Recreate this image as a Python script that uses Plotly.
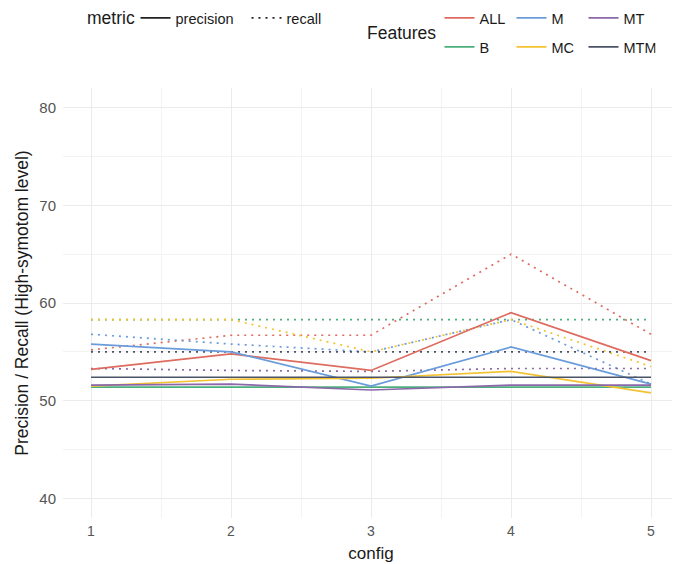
import plotly.graph_objects as go

configs = [1, 2, 3, 4, 5]
features = ["ALL", "B", "M", "MC", "MT", "MTM"]

all_precision = [53.2, 54.8, 53.1, 59.0, 54.1]
all_recall = [55.2, 56.7, 56.7, 65.0, 56.8]
b_precision = [51.4, 51.4, 51.4, 51.4, 51.4]
b_recall = [58.3, 58.3, 58.3, 58.3, 58.3]
m_precision = [55.8, 55.0, 51.5, 55.5, 51.7]
m_recall = [56.8, 55.8, 55.0, 58.3, 51.7]
mc_precision = [51.5, 52.2, 52.3, 53.0, 50.8]
mc_recall = [58.3, 58.3, 55.0, 58.3, 53.5]
mt_precision = [51.6, 51.7, 51.1, 51.6, 51.6]
mt_recall = [53.3, 53.1, 53.0, 53.3, 53.3]
mtm_precision = [52.4, 52.4, 52.4, 52.4, 52.4]
mtm_recall = [55.0, 55.0, 55.0, 55.0, 55.0]

colors = {
    "ALL": "#DE6B5F",
    "B": "#4DAF7C",
    "M": "#6A9BDB",
    "MC": "#F3C233",
    "MT": "#8B68AA",
    "MTM": "#4B5366",
}

series = {
    "ALL": (all_precision, all_recall),
    "B": (b_precision, b_recall),
    "M": (m_precision, m_recall),
    "MC": (mc_precision, mc_recall),
    "MT": (mt_precision, mt_recall),
    "MTM": (mtm_precision, mtm_recall),
}

fig = go.Figure()

LW = 1.7
DOT = "2px,5px"
for f in features:
    prec, rec = series[f]
    fig.add_trace(go.Scatter(x=configs, y=rec, mode="lines", showlegend=False,
                             line=dict(color=colors[f], width=LW, dash=DOT),
                             hoverinfo="skip"))
for f in features:
    prec, rec = series[f]
    fig.add_trace(go.Scatter(x=configs, y=prec, mode="lines", showlegend=False,
                             line=dict(color=colors[f], width=LW),
                             hoverinfo="skip"))

# metric legend entries
fig.add_trace(go.Scatter(x=[None], y=[None], mode="lines", name="precision",
                         line=dict(color="#222222", width=LW), legend="legend"))
fig.add_trace(go.Scatter(x=[None], y=[None], mode="lines", name="recall",
                         line=dict(color="#222222", width=LW, dash=DOT), legend="legend"))

# Features legend entries (two rows)
row1 = ["ALL", "M", "MT"]
row2 = ["B", "MC", "MTM"]
for f in row1:
    fig.add_trace(go.Scatter(x=[None], y=[None], mode="lines", name=f,
                             line=dict(color=colors[f], width=LW), legend="legend2"))
for f in row2:
    fig.add_trace(go.Scatter(x=[None], y=[None], mode="lines", name=f,
                             line=dict(color=colors[f], width=LW), legend="legend3"))

FONT = "Liberation Sans, Arial, sans-serif"
OFF = 8  # page body margin in the browser
W, H = 680 - OFF, 564 - OFF
L, R, T, B = 63 - OFF, 1, 88 - OFF, 46
pw, ph = W - L - R, H - T - B

def px_x(p):
    # p is an x position in screenshot pixels
    return (p - OFF - L) / pw

def px_y(p):
    return (H - B - (p - OFF)) / ph

LEG_FONT = dict(family=FONT, size=14.5, color="#1a1a1a")
legend_common = dict(orientation="h", bgcolor="rgba(0,0,0,0)",
                     yanchor="middle", xanchor="left", itemclick=False,
                     entrywidthmode="pixels", font=LEG_FONT)

fig.update_layout(
    width=W, height=H,
    margin=dict(l=L, r=R, t=T, b=B, autoexpand=False),
    paper_bgcolor="white", plot_bgcolor="white",
    font=dict(family=FONT, color="#1a1a1a"),
    legend=dict(**legend_common, x=px_x(135.5), y=px_y(18), entrywidth=66),
    legend2=dict(**legend_common, x=px_x(439.5), y=px_y(18), entrywidth=27),
    legend3=dict(**legend_common, x=px_x(439.5), y=px_y(47), entrywidth=27),
    xaxis=dict(
        range=[0.8, 5.2], tickvals=configs, ticktext=[str(c) for c in configs],
        showgrid=True, gridcolor="#EBEBEB", gridwidth=1.3,
        minor=dict(tickvals=[1.5, 2.5, 3.5, 4.5], showgrid=True,
                   gridcolor="#F3F3F3", gridwidth=0.7),
        zeroline=False, showline=False, ticks="", ticklabelstandoff=3,
        tickfont=dict(family=FONT, size=14, color="#555555"),
        title=dict(text="config", font=dict(family=FONT, size=17, color="#1a1a1a"), standoff=9),
    ),
    yaxis=dict(
        range=[38, 82], tickvals=[40, 50, 60, 70, 80],
        showgrid=True, gridcolor="#EBEBEB", gridwidth=1.3,
        minor=dict(tickvals=[45, 55, 65, 75], showgrid=True,
                   gridcolor="#F3F3F3", gridwidth=0.7),
        zeroline=False, showline=False, ticks="", ticklabelstandoff=6,
        tickfont=dict(family=FONT, size=15, color="#555555"),
        title=dict(text="Precision / Recall (High-symotom level)",
                   font=dict(family=FONT, size=17.5, color="#1a1a1a"), standoff=6),
    ),
    annotations=[
        dict(text="metric", x=px_x(85), y=px_y(18), xref="paper", yref="paper",
             xanchor="left", yanchor="middle", showarrow=False,
             font=dict(family=FONT, size=17.5, color="#1a1a1a")),
        dict(text="Features", x=px_x(365), y=px_y(32.5), xref="paper", yref="paper",
             xanchor="left", yanchor="middle", showarrow=False,
             font=dict(family=FONT, size=17.5, color="#1a1a1a")),
    ],
)

fig.write_html("out.html")
